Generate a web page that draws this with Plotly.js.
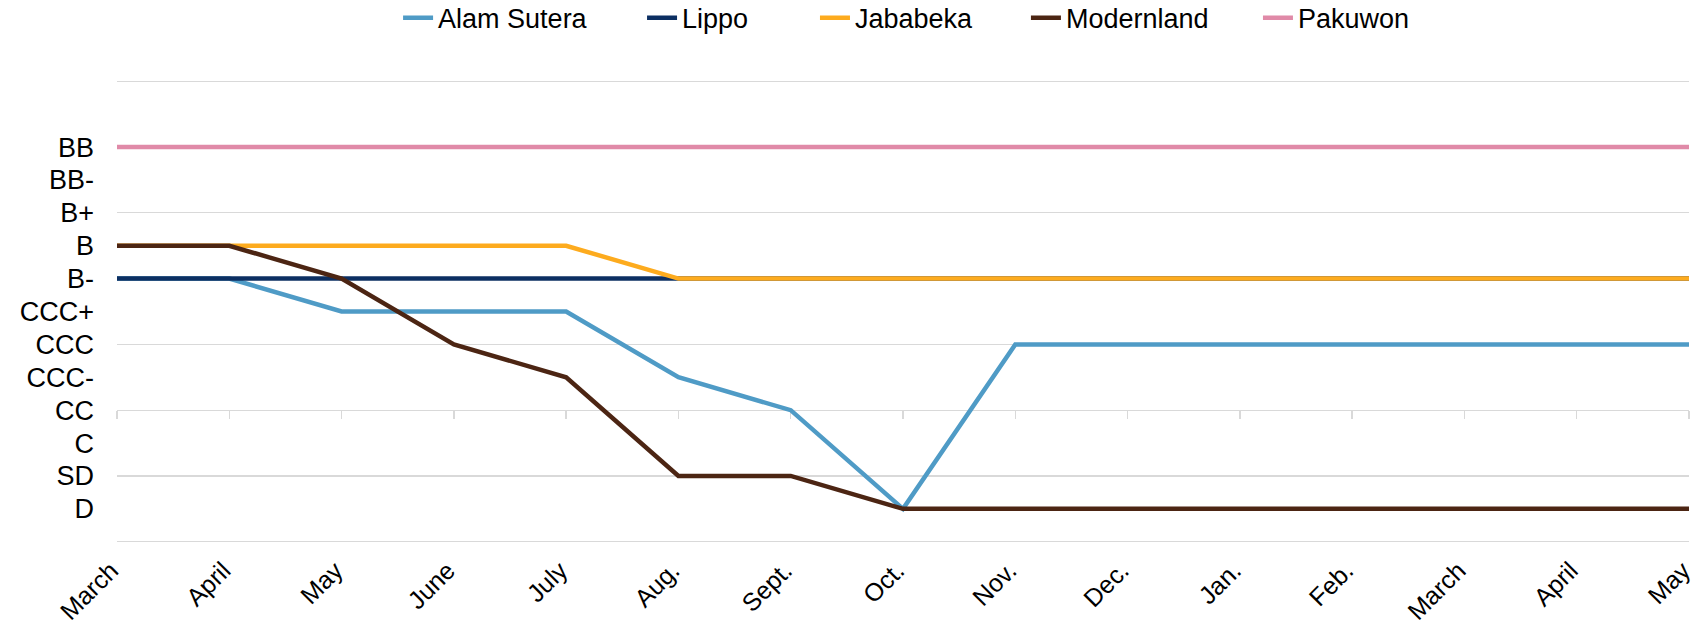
<!DOCTYPE html>
<html><head><meta charset="utf-8">
<script src="https://cdn.plot.ly/plotly-3.0.1.min.js"></script>
<style>html,body{margin:0;padding:0;background:#fff}#chart{width:1695px;height:627px}</style>
</head><body><div id="chart"></div>
<script>
const months = ["March","April","May","June","July","Aug.","Sept.","Oct.","Nov.","Dec.","Jan.","Feb.","March","April","May"];
const ratings = ["D","SD","C","CC","CCC-","CCC","CCC+","B-","B","B+","BB-","BB"];
const alamSutera = ["B-","B-","CCC+","CCC+","CCC+","CCC-","CC","D","CCC","CCC","CCC","CCC","CCC","CCC","CCC"];
const lippo      = ["B-","B-","B-","B-","B-","B-","B-","B-","B-","B-","B-","B-","B-","B-","B-"];
const jababeka   = ["B","B","B","B","B","B-","B-","B-","B-","B-","B-","B-","B-","B-","B-"];
const modernland = ["B","B","B-","CCC","CCC-","SD","SD","D","D","D","D","D","D","D","D"];
const pakuwon    = ["BB","BB","BB","BB","BB","BB","BB","BB","BB","BB","BB","BB","BB","BB","BB"];
const seriesNames = ["Alam Sutera","Lippo","Jababeka","Modernland","Pakuwon"];
const seriesColors = ["#4F9BC6","#0C2F62","#FDAB1E","#4C2513","#E08AA8"];
const legendX = [0.1788,0.3340,0.4440,0.5782,0.7258];
const gridVals = [0,2,4,6,8,10,12,14];

const FONT = "Liberation Sans, Arial, sans-serif";
const FS = 27;
const yRange = [-0.1, 14.1];
const xIdx = months.map((m,i)=>i);
const toNum = arr => arr.map(r => ratings.indexOf(r) + 1);
const allSeries = [alamSutera, lippo, jababeka, modernland, pakuwon];

const traces = allSeries.map((s,i)=>({
  type:'scatter', mode:'lines', name:seriesNames[i],
  x:xIdx, y:toNum(s),
  line:{color:seriesColors[i], width:4.5},
  legend: i===0 ? 'legend' : 'legend'+(i+1),
  hoverinfo:'skip'
}));
traces.push({type:'scatter', mode:'lines', x:[], y:[], xaxis:'x2', yaxis:'y2', showlegend:false, hoverinfo:'skip'});

const layout = {
  width:1695, height:627,
  margin:{l:117, r:6, t:78, b:82, autoexpand:false},
  paper_bgcolor:'#fff', plot_bgcolor:'rgba(0,0,0,0)',
  font:{family:FONT, size:FS, color:'#000'},
  showlegend:true,
  xaxis:{range:[0,14], tickmode:'array', tickvals:xIdx, ticktext:months, tickangle:-45,
         showgrid:false, zeroline:false, showline:false, ticks:'', ticklabelstandoff:5,
         ticklabelshift:-6, ticklabeloverflow:'allow',
         tickfont:{family:FONT, size:25, color:'#000'}, fixedrange:true},
  yaxis:{range:yRange, tickmode:'array', tickvals:ratings.map((r,i)=>i+1), ticktext:ratings,
         showgrid:false, zeroline:false, showline:false, ticks:'', ticklabelstandoff:22,
         tickfont:{family:FONT, size:FS, color:'#000'}, fixedrange:true},
  xaxis2:{overlaying:'x', anchor:'free', position:(4 - yRange[0])/(yRange[1]-yRange[0]), range:[0,14],
          tickmode:'array', tickvals:xIdx,
          showticklabels:false, showgrid:false, zeroline:false, showline:true, linecolor:'#d9d9d9', linewidth:1.3,
          ticks:'outside', ticklen:8, tickcolor:'#d9d9d9', tickwidth:1.3, layer:'below traces'},
  yaxis2:{overlaying:'y', anchor:'x2', range:yRange, tickmode:'array', tickvals:gridVals,
          showticklabels:false, showgrid:true, gridcolor:'#d9d9d9', gridwidth:1.3, zeroline:false, showline:false, ticks:''}
};
legendX.forEach((lx,i)=>{
  const key = i===0 ? 'legend' : 'legend'+(i+1);
  layout[key] = {x:lx, xanchor:'left', y:1.128, yanchor:'middle', orientation:'h',
    bgcolor:'rgba(0,0,0,0)', borderwidth:0, font:{family:FONT, size:FS, color:'#000'}};
});
Plotly.newPlot('chart', traces, layout, {displayModeBar:false, staticPlot:true});
</script></body></html>
